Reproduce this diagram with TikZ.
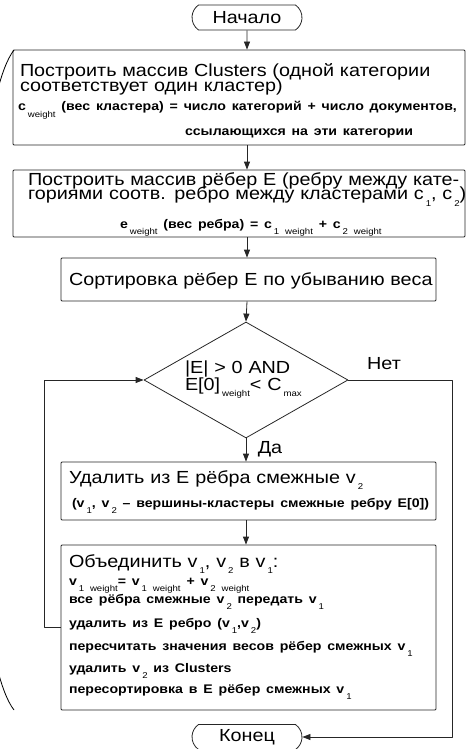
\documentclass[tikz,border=0pt]{standalone}
\usepackage{fontspec}
\setmainfont{Liberation Sans}[FakeStretch=1.13]
\usetikzlibrary{shapes.geometric,shapes.misc,arrows.meta}

% lowered index written as plain text
\newcommand{\lw}[1]{\hspace{2pt}\raisebox{-6.5pt}{\fontsize{8.5}{0}\selectfont\mdseries #1}}
\newcommand{\bigtxt}{\fontsize{17.5}{0}\selectfont\mdseries}
\newcommand{\smalltxt}{\fontsize{12.5}{0}\selectfont\bfseries}
% first line: height #1, last line: depth #1, the lines between are smashed
\newcommand{\tp}[1]{\rule{0pt}{#1}}
\newcommand{\bt}[1]{\rule[-#1]{0pt}{#1}}

\tikzset{
	exact lines/.style={execute at begin node={\baselineskip=0pt\lineskip=0pt\lineskiplimit=0pt}},
	blok/.style={draw=black!85, line width=0.8pt, rounded corners=1pt, inner ysep=0pt, align=left,
		font=\bigtxt, exact lines},
	term/.style={draw=black!85, line width=0.8pt, rounded rectangle, rounded rectangle arc length=110,
		minimum width=110pt, minimum height=25pt, inner sep=0pt, font=\bigtxt},
	cond/.style={draw=black!85, line width=0.8pt, diamond, minimum width=204pt, minimum height=116pt, inner sep=0pt},
	flow/.style={line width=0.8pt, draw=black!85, -{Triangle[length=8pt,width=6pt]}}
}

\begin{document}
\begin{tikzpicture}[x=1pt, y=-1pt, line join=round]
	\useasboundingbox (0,0) rectangle (472,749);
	\node[term] (start) at (247,17.5) {Начало};
	\node[blok, minimum width=452pt, minimum height=95pt, inner xsep=5pt, text width=442pt] (clust) at (239,97.5)
		{\tp{27pt}\hspace*{2pt}\smash{\makebox[423pt][s]{Построить массив Clusters (одной категории}}\\[15pt]
		\hspace*{2pt}\smash{соответствует один кластер)}\\[19pt]
		{\smalltxt\smash{\makebox[442pt][s]{c\lw{weight} (вес кластера) = число категорий + число документов,}}\\[25pt]
		\hspace*{167pt}\smash{ссылающихся на эти категории}\bt{9pt}}};
	\node[blok, minimum width=452pt, minimum height=67pt, inner xsep=5pt, text width=442pt] (edges) at (239,203.5)
		{\tp{15pt}\hspace*{10pt}\smash{\makebox[432pt][s]{Построить массив рёбер E (ребру между кате-}}\\[14.5pt]
		\hspace*{10pt}\smash{\makebox[432pt][s]{гориями соотв. ребро между кластерами c\lw{1}, c\lw{2})}}\\[28.5pt]
		{\smalltxt\hspace*{102pt}\smash{e\lw{weight} (вес ребра) = c\lw{1 weight} + c\lw{2 weight}}\bt{9pt}}};
	\node[blok, minimum width=375pt, minimum height=43pt, inner xsep=8pt, text width=359pt, align=center] (sort) at (248.5,279.5)
		{\tp{27pt}\smash{Сортировка рёбер E по убыванию веса}\bt{16pt}};
	\node[cond, label={[font=\bigtxt, exact lines, inner sep=0pt, text width=140pt, align=left]center:%
		\tp{18pt}\hspace*{9pt}\smash{|E| > 0 AND}\\[17pt]\hspace*{9pt}\smash{E[0]\lw{weight}< C\lw{max}}\bt{15pt}}] (test) at (246,380) {};
	\node[blok, minimum width=375pt, minimum height=58pt, inner xsep=8pt, text width=359pt] (del) at (248.5,491)
		{\tp{21pt}\smash{Удалить из E рёбра смежные v\lw{2}}\\[24pt]
		{\smalltxt\hspace*{3pt}\smash{(v\lw{1}, v\lw{2} -- вершины-кластеры смежные ребру E[0])}\bt{13pt}}};
	\node[blok, minimum width=375pt, minimum height=165pt, inner xsep=8pt, text width=359pt] (merge) at (248.5,627.5)
		{\tp{22pt}\smash{Объединить v\lw{1}, v\lw{2} в v\lw{1}:}\\[18pt]
		{\smalltxt\smash{v\lw{1 weight}= v\lw{1 weight} + v\lw{2 weight}}\\[18pt]
		\smash{все рёбра смежные v\lw{2} передать v\lw{1}}\\[24pt]
		\smash{удалить из E ребро (v\lw{1},v\lw{2})}\\[23pt]
		\smash{пересчитать значения весов рёбер смежных v\lw{1}}\\[22pt]
		\smash{удалить v\lw{2} из Clusters}\\[21pt]
		\smash{пересортировка в E рёбер смежных v\lw{1}}\bt{17pt}}};
	\node[term] (stop) at (247,737) {Конец};
	\node[font=\bigtxt] (no) at (384,363.5) {Нет};
	\node[font=\bigtxt] (yes) at (270,449) {Да};
	\coordinate (turn) at (452,380);

	\draw[flow] (start) -- (start |- clust.north);
	\draw[flow] (start |- clust.south) -- (start |- edges.north);
	\draw[flow] (start |- edges.south) -- (start |- sort.north);
	\draw[flow] (start |- sort.south) -- (test.north);
	\draw[flow] (test.south) -- (test.south |- del.north);
	\draw[flow] (test.south |- del.south) -- (test.south |- merge.north);
	\draw[flow] (merge.west) -- ++(-16,0) |- (test.west);
	\draw[flow] (test.east) -- (turn) |- (stop.east);

	% big bracket at the left edge
	\draw[line width=0.8pt] (14,50) .. controls (-40,120) and (-40,640) .. (14,710);
\end{tikzpicture}
\end{document}
